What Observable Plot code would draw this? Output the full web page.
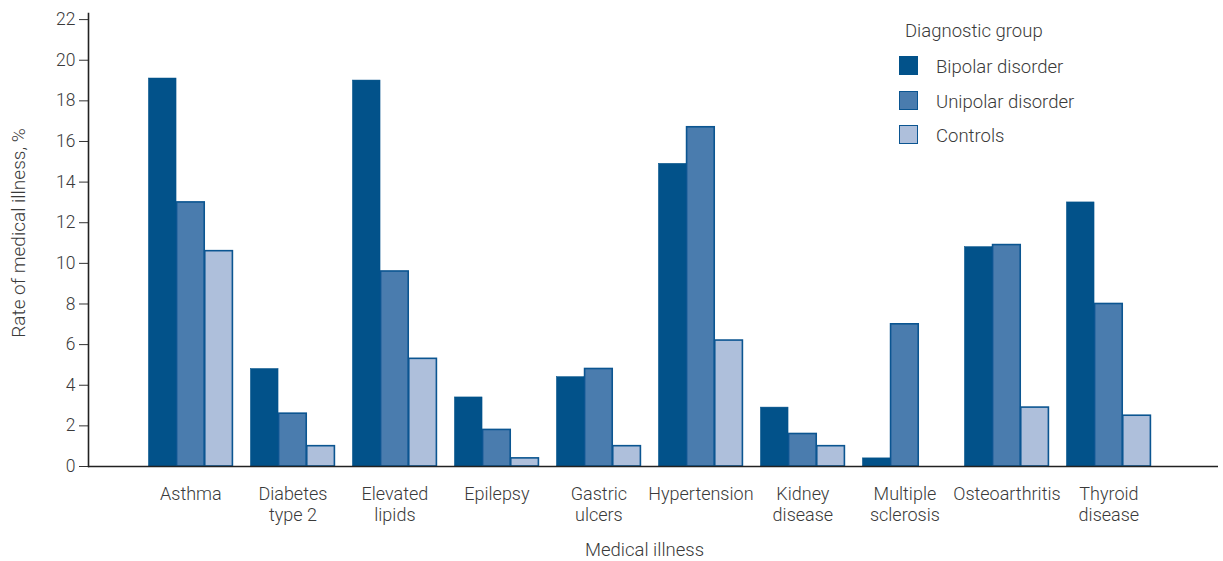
<!DOCTYPE html>
<html>
<head>
<meta charset="utf-8">
<script src="https://cdn.jsdelivr.net/npm/d3@7"></script>
<script src="https://cdn.jsdelivr.net/npm/@observablehq/plot@0.6"></script>
<style>
  body { margin: 0; background: #fff; }
  #wrap { position: relative; width: 1223px; height: 561px; font-family: Roboto, "Open Sans", sans-serif; color: #3a3a3a; }
  #legend { position: absolute; left: 899px; top: 18px; font-size: 18.5px; font-weight: 300; }
  #legend .title { margin-left: 6px; height: 26px; line-height: 26px; }
  #legend .item { position: absolute; left: 0; width: 220px; height: 20px; }
  #legend .sw { position: absolute; left: 0; top: 0; width: 17px; height: 17px; border: 1.5px solid #0b5591; }
  #legend .lab { position: absolute; left: 37px; top: 0px; line-height: 22px; white-space: nowrap; }
</style>
</head>
<body>
<div id="wrap"></div>
<script>
// ---- data ----
const illnesses = ["Asthma", "Diabetes type 2", "Elevated lipids", "Epilepsy", "Gastric ulcers",
  "Hypertension", "Kidney disease", "Multiple sclerosis", "Osteoarthritis", "Thyroid disease"];
const illnessLabels = ["Asthma", "Diabetes\ntype 2", "Elevated\nlipids", "Epilepsy", "Gastric\nulcers",
  "Hypertension", "Kidney\ndisease", "Multiple\nsclerosis", "Osteoarthritis", "Thyroid\ndisease"];
const groups = ["Bipolar disorder", "Unipolar disorder", "Controls"];
const bipolar  = [19.1, 4.8, 19.0, 3.4, 4.4, 14.9, 2.9, 0.4, 10.8, 13.0];
const unipolar = [13.0, 2.6, 9.6, 1.8, 4.8, 16.7, 1.6, 7.0, 10.9, 8.0];
const controls = [10.6, 1.0, 5.3, 0.4, 1.0, 6.2, 1.0, null, 2.9, 2.5];
const yTicks = [0, 2, 4, 6, 8, 10, 12, 14, 16, 18, 20, 22];
const yTitle = "Rate of medical illness, %";
const xTitle = "Medical illness";
const groupColors = ["#02528a", "#4a7cae", "#aebfdb"];
const edgeColor = "#0b5591";

// ---- layout ----
const W = 1223, H = 561;
const mL = 88, mR = 5, mT = 13, mB = 95;
const pIn = 0.177, pOut = 0.59;
const shift = -3.6;
const band = d3.scaleBand().domain(illnesses).range([mL, W - mR])
  .paddingInner(pIn).paddingOuter(pOut);
const third = band.bandwidth() / 3;

const series = [bipolar, unipolar, controls];
const rows = series.map((vals, gi) =>
  illnesses.map((ill, i) => ({illness: ill, group: groups[gi], value: vals[i]}))
    .filter(d => d.value != null));

const labelOf = new Map(illnesses.map((d, i) => [d, illnessLabels[i]]));

const chart = Plot.plot({
  width: W, height: H,
  marginLeft: mL, marginRight: mR, marginTop: mT, marginBottom: mB,
  style: {fontFamily: "Roboto, 'Open Sans', sans-serif", fontSize: "17px", color: "#3a3a3a", fontWeight: 300, background: "#fff"},
  x: {domain: illnesses, paddingInner: pIn, paddingOuter: pOut},
  y: {domain: [0, 22.3]},
  color: {domain: groups, range: groupColors},
  marks: [
    ...rows.map((data, gi) => Plot.barY(data, {
      x: "illness", y: "value", fill: "group", dx: shift,
      stroke: gi === 0 ? groupColors[0] : edgeColor,
      strokeWidth: gi === 0 ? 0.5 : 1.6,
      insetLeft: gi * third, insetRight: (2 - gi) * third
    })),
    Plot.axisY({ticks: yTicks, tickSize: 9, tickPadding: 4, fontSize: 17.5, label: null, stroke: "#333"}),
    Plot.axisX({tickSize: 0, tickPadding: 18, fontSize: 18, lineHeight: 1.2, dx: shift,
      tickFormat: d => labelOf.get(d), label: null}),
    Plot.text([yTitle], {frameAnchor: "left", textAnchor: "middle", rotate: -90, dx: -70, dy: -7, fontSize: 19, fill: "#3a3a3a"}),
    Plot.text([xTitle], {frameAnchor: "bottom", lineAnchor: "middle", dx: -9, dy: 84, fontSize: 18.5, fill: "#3a3a3a"}),
    Plot.ruleY([0], {stroke: "#222", strokeWidth: 1.6}),
    Plot.frame({anchor: "left", stroke: "#222", strokeWidth: 1.6})
  ]
});
const wrap = document.getElementById("wrap");
wrap.appendChild(chart);

// ---- legend ----
const legend = document.createElement("div");
legend.id = "legend";
legend.innerHTML = `<div class="title">Diagnostic group</div>` +
  groups.map((g, i) => `<div class="item" style="top:${38 + i * 34.7}px">
     <div class="sw" style="background:${groupColors[i]};border-color:${i === 0 ? groupColors[0] : edgeColor}"></div>
     <div class="lab">${g}</div></div>`).join("");
wrap.appendChild(legend);
</script>
</body>
</html>
